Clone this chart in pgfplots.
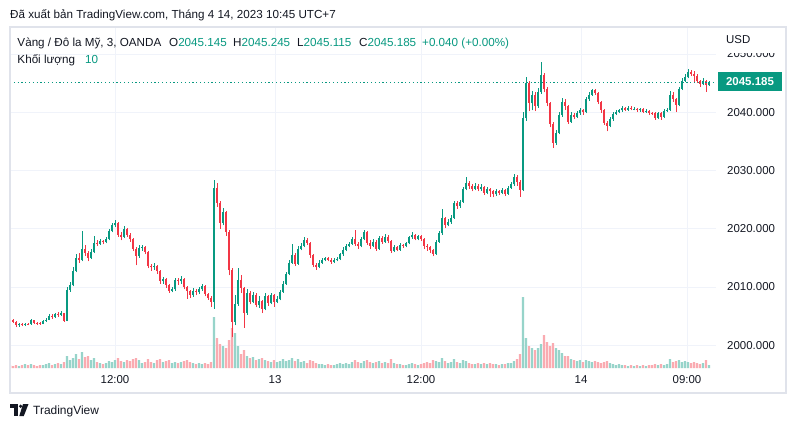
\documentclass[border=0pt]{standalone}
\usepackage{pgfplots}
\pgfplotsset{compat=1.18}
\usepackage{pgfplotstable}
\usepackage{fontspec}
\setmainfont{Liberation Sans}
\definecolor{tvgreen}{HTML}{089981}
\definecolor{tvred}{HTML}{F23645}
\definecolor{tvtext}{HTML}{131722}
\definecolor{tvgrid}{HTML}{F0F3FA}
\definecolor{tvframe}{HTML}{E0E3EB}
\pgfplotstableread{
x o h l c v
10 2004.5 2004.7 2004.1 2004.3 3
13 2004.3 2004.5 2003.8 2004.0 2
16 2004.0 2004.1 2003.1 2003.4 3
19 2003.4 2003.9 2003.2 2003.6 2
22 2003.6 2003.8 2003.3 2003.5 3
25 2003.5 2003.9 2003.3 2003.7 4
28 2003.7 2003.9 2003.4 2003.6 3
31 2003.6 2004.5 2003.5 2004.3 4
34 2004.3 2004.4 2003.7 2003.9 3
37 2003.9 2004.0 2003.5 2003.8 2
40 2003.8 2004.0 2003.5 2003.7 3
43 2003.7 2004.4 2003.6 2004.2 3
46 2004.2 2004.7 2004.0 2004.4 4
49 2004.4 2005.3 2004.3 2005.0 5
52 2005.0 2005.3 2004.5 2004.8 3
55 2004.8 2005.6 2004.7 2005.3 4
58 2005.3 2005.7 2004.9 2005.2 5
61 2005.2 2005.8 2005.0 2005.5 4
64 2005.5 2005.6 2004.0 2004.2 6
67 2004.2 2010.0 2004.1 2009.5 12
70 2009.5 2010.8 2009.2 2010.3 8
73 2010.3 2013.4 2010.1 2012.8 10
76 2012.8 2015.6 2012.5 2015.0 14
79 2015.0 2015.8 2014.2 2014.6 9
82 2014.6 2019.6 2014.4 2016.6 16
85 2016.6 2017.2 2015.3 2015.8 11
88 2015.8 2016.1 2014.4 2015.0 12
91 2015.0 2016.5 2014.8 2016.0 8
94 2016.0 2018.8 2015.8 2017.6 10
97 2017.6 2018.0 2017.0 2017.4 6
100 2017.4 2018.3 2017.2 2017.9 5
103 2017.9 2018.1 2017.3 2017.7 4
106 2017.7 2018.5 2017.5 2018.2 5
109 2018.2 2020.0 2018.0 2019.6 7
112 2019.6 2021.0 2019.4 2020.6 6
115 2020.6 2021.5 2020.3 2021.0 8
118 2021.0 2021.2 2018.6 2019.0 10
121 2019.0 2019.4 2018.0 2018.6 7
124 2018.6 2020.4 2018.4 2019.9 6
127 2019.9 2020.2 2018.6 2019.0 8
130 2019.0 2019.3 2017.8 2018.2 7
133 2018.2 2018.4 2016.2 2016.6 9
136 2016.6 2016.9 2013.7 2015.3 10
139 2015.3 2017.2 2015.0 2016.7 8
142 2016.7 2017.2 2016.2 2016.8 5
145 2016.8 2017.0 2015.6 2016.0 6
148 2016.0 2016.2 2013.2 2013.6 9
151 2013.6 2014.0 2012.8 2013.4 6
154 2013.4 2014.1 2013.0 2013.6 5
157 2013.6 2013.8 2012.2 2012.8 8
160 2012.8 2013.0 2010.6 2011.0 9
163 2011.0 2011.8 2010.6 2011.4 6
166 2011.4 2011.6 2009.9 2010.3 7
169 2010.3 2010.5 2009.0 2009.4 8
172 2009.4 2010.0 2009.1 2009.6 5
175 2009.6 2011.6 2009.4 2011.2 6
178 2011.2 2011.6 2010.4 2011.0 5
181 2011.0 2011.9 2010.6 2011.4 6
184 2011.4 2011.5 2009.6 2010.0 7
187 2010.0 2010.2 2008.0 2009.3 8
190 2009.3 2009.5 2008.1 2008.6 6
193 2008.6 2009.8 2008.3 2009.4 5
196 2009.4 2009.7 2008.6 2009.1 4
199 2009.1 2010.0 2008.8 2009.6 5
202 2009.6 2010.6 2009.4 2010.2 4
205 2010.2 2010.3 2008.4 2008.8 5
208 2008.8 2009.0 2007.8 2008.2 4
211 2008.2 2008.5 2006.6 2007.5 6
214 2007.5 2028.4 2006.3 2027.0 51
217 2027.0 2027.8 2023.8 2024.5 30
220 2024.5 2024.8 2020.0 2021.0 24
223 2021.0 2023.6 2020.6 2022.8 22
226 2022.8 2023.0 2018.8 2019.5 20
229 2019.5 2019.8 2012.0 2013.0 28
232 2013.0 2013.2 2001.5 2004.0 40
235 2004.0 2008.6 2003.4 2007.0 35
238 2007.0 2013.3 2006.8 2011.2 22
241 2011.2 2012.0 2009.0 2009.8 14
244 2009.8 2010.0 2003.0 2005.5 18
247 2005.5 2009.6 2005.2 2009.0 12
250 2009.0 2009.4 2007.0 2007.5 10
253 2007.5 2009.2 2007.2 2008.6 11
256 2008.6 2008.9 2006.5 2006.9 8
259 2006.9 2008.4 2006.4 2007.6 9
262 2007.6 2007.8 2005.5 2006.2 10
265 2006.2 2008.9 2006.0 2008.4 8
268 2008.4 2008.7 2006.8 2007.2 7
271 2007.2 2009.0 2007.0 2008.6 6
274 2008.6 2008.8 2006.6 2007.4 8
277 2007.4 2008.4 2007.2 2007.9 6
280 2007.9 2009.5 2007.7 2009.2 7
283 2009.2 2011.0 2009.0 2010.6 9
286 2010.6 2012.6 2010.4 2012.2 7
289 2012.2 2014.6 2012.0 2014.2 8
292 2014.2 2017.4 2014.0 2015.5 10
295 2015.5 2015.8 2013.6 2014.0 7
298 2014.0 2017.0 2013.8 2016.6 9
301 2016.6 2017.5 2016.3 2017.0 6
304 2017.0 2018.6 2016.8 2018.0 7
307 2018.0 2018.4 2017.2 2017.6 5
310 2017.6 2017.8 2015.0 2015.5 8
313 2015.5 2015.7 2013.4 2013.8 7
316 2013.8 2014.2 2013.0 2013.4 5
319 2013.4 2014.6 2013.2 2014.2 4
322 2014.2 2015.0 2014.0 2014.6 4
325 2014.6 2015.2 2014.4 2014.9 3
328 2014.9 2015.1 2014.4 2014.7 4
331 2014.7 2014.9 2014.0 2014.3 3
334 2014.3 2014.9 2014.1 2014.6 3
337 2014.6 2015.1 2014.4 2014.8 4
340 2014.8 2015.9 2014.6 2015.6 5
343 2015.6 2016.8 2015.4 2016.4 4
346 2016.4 2017.3 2016.1 2017.0 5
349 2017.0 2017.8 2016.8 2017.4 4
352 2017.4 2018.6 2017.2 2018.2 6
355 2018.2 2019.8 2017.0 2017.4 8
358 2017.4 2017.8 2016.6 2017.0 6
361 2017.0 2018.6 2016.8 2018.2 5
364 2018.2 2019.8 2018.0 2019.4 7
367 2019.4 2019.6 2017.2 2017.6 8
370 2017.6 2018.0 2016.5 2017.0 6
373 2017.0 2018.2 2016.8 2017.8 5
376 2017.8 2018.0 2016.2 2016.6 6
379 2016.6 2018.8 2016.4 2018.4 7
382 2018.4 2018.7 2017.4 2017.8 5
385 2017.8 2019.1 2017.6 2018.6 6
388 2018.6 2018.9 2017.5 2017.9 5
391 2017.9 2018.1 2015.8 2016.2 9
394 2016.2 2017.2 2016.0 2016.8 5
397 2016.8 2017.0 2016.1 2016.4 4
400 2016.4 2017.5 2016.2 2017.2 4
403 2017.2 2017.4 2016.7 2017.0 3
406 2017.0 2017.8 2016.8 2017.5 3
409 2017.5 2018.8 2017.3 2018.5 4
412 2018.5 2019.4 2018.2 2018.9 5
415 2018.9 2019.1 2018.0 2018.3 4
418 2018.3 2019.0 2018.0 2018.7 3
421 2018.7 2018.9 2017.9 2018.2 4
424 2018.2 2018.4 2016.5 2017.0 5
427 2017.0 2017.3 2016.2 2016.8 6
430 2016.8 2017.0 2015.8 2016.3 5
433 2016.3 2016.5 2015.3 2015.7 8
436 2015.7 2018.1 2015.5 2017.8 7
439 2017.8 2019.6 2017.6 2019.2 6
442 2019.2 2023.4 2019.0 2021.8 10
445 2021.8 2022.0 2020.1 2020.6 7
448 2020.6 2021.6 2020.4 2021.1 5
451 2021.1 2022.3 2020.9 2021.9 6
454 2021.9 2024.8 2021.7 2024.4 9
457 2024.4 2024.8 2023.4 2023.9 6
460 2023.9 2025.0 2023.6 2024.6 5
463 2024.6 2027.2 2024.4 2026.8 8
466 2026.8 2028.8 2026.6 2027.8 7
469 2027.8 2028.2 2026.9 2027.3 5
472 2027.3 2027.6 2026.4 2026.9 4
475 2026.9 2027.8 2026.6 2027.4 4
478 2027.4 2027.6 2026.4 2026.8 5
481 2026.8 2027.6 2026.5 2027.2 4
484 2027.2 2027.4 2025.8 2026.2 5
487 2026.2 2027.2 2025.9 2026.8 4
490 2026.8 2027.0 2025.5 2026.5 5
493 2026.5 2026.7 2025.4 2025.9 4
496 2025.9 2026.8 2025.6 2026.4 4
499 2026.4 2026.6 2025.8 2026.2 3
502 2026.2 2027.0 2025.9 2026.6 4
505 2026.6 2026.8 2025.6 2026.0 4
508 2026.0 2027.3 2025.8 2027.0 5
511 2027.0 2028.0 2026.8 2027.6 5
514 2027.6 2029.4 2027.4 2028.8 7
517 2028.8 2029.2 2027.4 2028.0 9
520 2028.0 2028.3 2025.5 2026.7 14
523 2026.7 2040.0 2026.5 2039.0 71
526 2039.0 2046.1 2038.5 2045.0 30
529 2045.0 2045.4 2040.2 2041.5 22
532 2041.5 2043.6 2040.3 2043.0 20
535 2043.0 2043.5 2040.2 2041.0 18
538 2041.0 2044.2 2040.8 2043.5 20
541 2043.5 2048.7 2043.2 2046.4 24
544 2046.4 2046.8 2043.4 2044.0 33
547 2044.0 2044.4 2041.0 2041.5 26
550 2041.5 2041.8 2037.4 2038.0 22
553 2038.0 2038.3 2033.9 2034.8 25
556 2034.8 2037.0 2034.4 2036.5 20
559 2036.5 2040.0 2036.2 2039.5 18
562 2039.5 2042.5 2039.2 2041.8 15
565 2041.8 2042.2 2040.4 2041.0 12
568 2041.0 2041.2 2038.0 2038.4 12
571 2038.4 2040.0 2038.2 2039.6 9
574 2039.6 2039.9 2038.8 2039.2 8
577 2039.2 2040.2 2039.0 2039.8 7
580 2039.8 2040.7 2039.5 2040.3 8
583 2040.3 2040.6 2039.6 2040.0 6
586 2040.0 2042.6 2039.8 2042.2 8
589 2042.2 2043.4 2042.0 2043.0 7
592 2043.0 2044.0 2042.8 2043.8 6
595 2043.8 2044.0 2043.0 2043.3 7
598 2043.3 2043.5 2041.4 2041.8 6
601 2041.8 2042.0 2039.9 2040.3 5
604 2040.3 2040.5 2037.8 2038.2 6
607 2038.2 2038.5 2036.7 2037.6 7
610 2037.6 2039.2 2037.4 2038.8 5
613 2038.8 2040.0 2038.5 2039.7 4
616 2039.7 2040.3 2039.5 2040.0 3
619 2040.0 2040.6 2039.8 2040.3 4
622 2040.3 2041.0 2040.1 2040.7 3
625 2040.7 2040.9 2040.2 2040.4 3
628 2040.4 2041.1 2040.2 2040.8 2
631 2040.8 2041.0 2040.3 2040.5 3
634 2040.5 2040.9 2040.3 2040.6 2
637 2040.6 2040.8 2040.1 2040.3 3
640 2040.3 2040.8 2040.1 2040.5 2
643 2040.5 2040.7 2039.9 2040.1 3
646 2040.1 2040.5 2039.9 2040.2 2
649 2040.2 2040.4 2039.6 2039.9 3
652 2039.9 2040.1 2039.5 2039.8 3
655 2039.8 2040.0 2038.7 2039.0 4
658 2039.0 2040.1 2038.8 2039.8 3
661 2039.8 2040.0 2038.7 2039.2 4
664 2039.2 2040.5 2039.0 2040.2 3
667 2040.2 2040.7 2040.0 2040.4 4
670 2040.4 2043.6 2040.2 2043.0 9
673 2043.0 2043.4 2041.8 2042.2 6
676 2042.2 2042.5 2040.0 2041.2 7
679 2041.2 2044.4 2041.0 2044.0 8
682 2044.0 2045.8 2043.8 2045.4 6
685 2045.4 2046.5 2045.2 2046.0 7
688 2046.0 2047.4 2045.8 2046.9 6
691 2046.9 2047.2 2046.2 2046.6 5
694 2046.6 2047.0 2045.0 2046.2 6
697 2046.2 2046.5 2045.0 2045.3 5
700 2045.3 2045.6 2044.4 2044.8 4
703 2044.8 2045.8 2044.6 2045.4 5
706 2045.4 2045.6 2043.5 2044.6 8
709 2044.6 2045.3 2044.5 2045.2 3
}\candles
\pgfplotsset{
  tvaxis/.style={scale only axis, width=706bp, height=341bp, at={(10bp,61bp)},
    anchor=south west, xmin=10, xmax=716, enlargelimits=false},
  tvprice/.style={ymin=1996.10, ymax=2054.63},
}
\begin{document}
\begin{tikzpicture}[x=1bp,y=1bp]
\useasboundingbox (0,0) rectangle (796,429);
\fill[white] (0,0) rectangle (796,429);
% grid + tick labels
\begin{axis}[tvaxis, tvprice,
  axis line style={draw=none},
  ytick={2000,2010,2020,2030,2040,2050},
  xtick={115,275,421,581,687},
  xticklabels={12:00,13,12:00,14,09:00},
  grid=major, grid style={tvgrid, line width=0.9bp},
  major tick length=0pt,
  yticklabel pos=right,
  ticklabel style={font=\fontsize{11.5}{13}\selectfont, text=tvtext, inner sep=0pt},
  yticklabel style={anchor=west, xshift=11bp,
    /pgf/number format/.cd, fixed, fixed zerofill, precision=3, 1000 sep={}, assume math mode=true},
  xticklabel style={anchor=center, yshift=-12bp},
]
\addplot[draw=none] coordinates {(10,2000)};
\end{axis}
% volume
\begin{axis}[tvaxis, ymin=0, ymax=341, hide axis]
\addplot[ybar, bar width=2.2, bar shift=0pt, fill=tvgreen!42, draw=none,
  restrict expr to domain={\thisrow{c}-\thisrow{o}}{0:1000}]
  table[x=x, y=v] {\candles};
\addplot[ybar, bar width=2.2, bar shift=0pt, fill=tvred!42, draw=none,
  restrict expr to domain={\thisrow{c}-\thisrow{o}}{-1000:-0.00001}]
  table[x=x, y=v] {\candles};
\end{axis}
% candles
\begin{axis}[tvaxis, tvprice, hide axis]
\addplot[draw=none, mark=none,
  restrict expr to domain={\thisrow{c}-\thisrow{o}}{0:1000},
  error bars/.cd, y dir=plus, y explicit, error mark=none,
  error bar style={draw=tvgreen, line width=0.85bp}]
  table[x=x, y=l, y error plus expr=\thisrow{h}-\thisrow{l}] {\candles};
\addplot[draw=none, mark=none,
  restrict expr to domain={\thisrow{c}-\thisrow{o}}{-1000:-0.00001},
  error bars/.cd, y dir=plus, y explicit, error mark=none,
  error bar style={draw=tvred, line width=0.85bp}]
  table[x=x, y=l, y error plus expr=\thisrow{h}-\thisrow{l}] {\candles};
\addplot[draw=none, mark=none,
  restrict expr to domain={\thisrow{c}-\thisrow{o}}{0:1000},
  error bars/.cd, y dir=plus, y explicit, error mark=none,
  error bar style={draw=tvgreen, line width=2bp}]
  table[x=x, y=o, y error plus expr=\thisrow{c}-\thisrow{o}] {\candles};
\addplot[draw=none, mark=none,
  restrict expr to domain={\thisrow{c}-\thisrow{o}}{-1000:-0.00001},
  error bars/.cd, y dir=minus, y explicit, error mark=none,
  error bar style={draw=tvred, line width=2bp}]
  table[x=x, y=o, y error minus expr=\thisrow{o}-\thisrow{c}] {\candles};
\addplot[tvgreen, line width=0.9bp, dash pattern=on 1.2bp off 2.6bp]
  coordinates {(10,2045.185) (716,2045.185)};
\end{axis}
% frame
\draw[tvframe, line width=1.2bp] (10,36) rectangle (786,402);
% USD label covering top of 2050 label
\fill[white] (718,376.5) rectangle (785,401);
\node[anchor=west, inner sep=0pt, text=tvtext, font=\fontsize{11.5}{13}\selectfont] at (726,389) {USD};
% price tag
\fill[tvgreen] (718,338) rectangle (782,357);
\node[text=white, font=\fontsize{11.5}{13}\selectfont\bfseries, inner sep=0pt] at (750,347.5) {2045.185};
% title
\begin{scope}[every node/.style={anchor=base west, inner sep=0pt, text=tvtext, font=\fontsize{11.7}{14}\selectfont}]
\node at (10,410) {Đã xuất bản TradingView.com, Tháng 4 14, 2023 10:45 UTC+7};
\node at (17.3,382.5) {Vàng / Đô la Mỹ, 3, OANDA};
\node at (169,382.5) {O\textcolor{tvgreen}{2045.145}};
\node at (233,382.5) {H\textcolor{tvgreen}{2045.245}};
\node at (297,382.5) {L\textcolor{tvgreen}{2045.115}};
\node at (359,382.5) {C\textcolor{tvgreen}{2045.185}};
\node at (422,382.5) {\textcolor{tvgreen}{+0.040 (+0.00\%)}};
\node at (17.3,365.5) {Khối lượng};
\node at (85,365.5) {\textcolor{tvgreen}{10}};
\node[font=\fontsize{12}{14}\selectfont] at (33,14.5) {TradingView};
\end{scope}
% logo
\fill[tvtext] (10,25) rectangle (17.5,21.5);
\fill[tvtext] (14,25) rectangle (17.5,13);
\fill[tvtext] (20.6,22.8) circle (1.8);
\fill[tvtext] (23,25) -- (28.5,25) -- (23.8,13) -- (19.3,13) -- cycle;
\end{tikzpicture}
\end{document}
